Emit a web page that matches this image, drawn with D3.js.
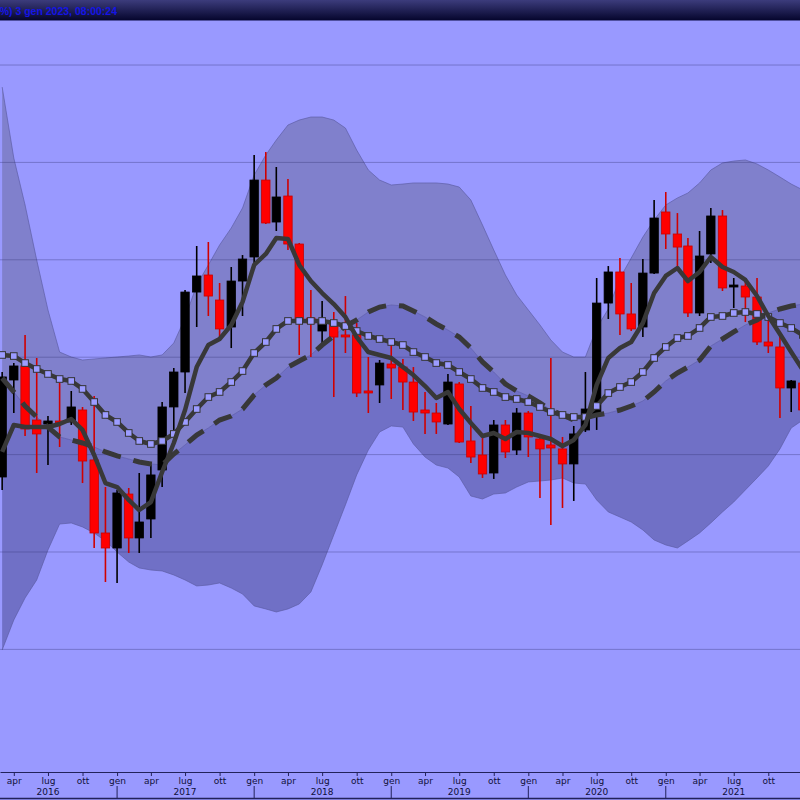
<!DOCTYPE html>
<html><head><meta charset="utf-8">
<script src="https://cdn.jsdelivr.net/npm/d3@7"></script>
<style>html,body{margin:0;padding:0;background:#9999ff;} svg{display:block}</style>
</head><body>
<svg id="c" width="800" height="800"></svg>
<script>
// ---- data (monthly candles, Mar 2016 .. Jan 2022) ----
const firstMonth = {year: 2016, month: 2};
const open  = [27.70,37.66,39.10,33.55,33.14,33.45,33.35,34.58,29.45,21.95,20.41,25.95,21.44,23.39,28.42,34.89,38.48,46.69,48.44,45.87,43.10,47.82,50.29,58.19,53.88,56.55,51.62,44.02,42.69,43.51,42.18,42.28,36.43,37.15,39.30,38.99,37.45,34.58,34.27,33.14,37.25,31.40,29.96,28.11,33.04,30.47,34.27,31.60,30.99,30.58,29.04,32.53,34.07,45.56,48.75,44.44,43.10,48.64,54.91,52.65,51.42,44.54,50.60,54.50,47.21,47.31,46.18,41.56,41.05,36.84,37.35];
const high  = [38.48,39.40,42.28,39.92,33.96,37.35,36.53,34.89,36.02,26.67,26.37,26.57,28.11,28.93,35.40,38.89,46.90,51.42,51.83,47.62,49.26,50.49,60.76,61.07,59.53,58.30,51.73,46.90,45.77,44.64,46.28,43.51,40.02,39.71,41.25,39.82,38.99,36.43,35.30,38.28,37.45,34.99,31.70,33.55,33.55,34.78,34.48,31.91,39.92,31.81,32.94,38.48,48.13,49.36,50.18,47.62,50.08,56.14,56.96,54.80,52.24,52.96,55.32,55.11,48.13,47.93,48.13,44.02,42.18,37.66,40.23];
const low   = [26.37,34.27,31.91,28.11,28.93,30.78,33.04,27.08,20.41,16.92,16.82,19.90,19.90,21.44,26.67,32.53,36.32,43.10,44.23,41.87,40.94,44.23,49.16,53.68,52.96,51.01,40.23,40.02,41.46,35.91,40.43,35.91,34.27,35.30,35.71,34.58,33.45,32.12,32.12,33.04,31.19,29.14,27.60,27.50,29.65,29.96,29.75,25.54,22.77,24.52,25.24,32.32,32.53,43.92,42.28,42.69,42.07,48.54,51.11,49.26,44.13,44.23,49.67,46.80,45.05,43.61,41.25,40.43,33.76,34.37,33.55];
const close = [37.97,39.10,32.63,32.12,33.45,33.24,34.89,29.34,21.95,20.41,26.06,21.44,23.08,27.91,34.89,38.48,46.69,48.34,46.28,42.90,47.82,50.08,58.19,53.78,56.45,51.62,43.82,43.51,43.61,42.07,42.07,36.32,36.32,39.40,38.89,37.45,34.37,34.27,33.35,37.45,31.29,29.75,28.01,33.04,30.27,34.27,31.81,30.58,30.68,29.04,32.12,34.68,45.56,48.75,44.44,42.90,48.64,54.29,52.65,51.31,44.54,50.39,54.50,47.11,47.31,46.18,41.56,41.15,36.84,37.56,34.58];
const maShort = [30.27,33.04,32.83,32.83,32.83,33.14,33.65,32.53,29.96,27.08,26.67,25.34,24.31,25.13,28.21,31.19,34.58,38.99,41.25,41.87,43.31,45.67,49.47,50.60,52.24,52.14,49.47,47.82,46.59,45.46,44.13,42.07,40.53,40.23,39.92,38.99,38.17,37.04,35.81,36.43,34.68,33.24,31.91,32.22,31.60,32.32,32.22,31.91,31.60,30.88,31.50,33.04,37.15,39.92,40.94,41.56,43.51,46.59,48.34,49.16,47.82,48.75,50.29,49.26,48.75,47.93,46.28,44.23,42.38,40.53,38.69];
const maMid   = [40.23,40.12,39.40,38.79,38.28,37.76,37.56,36.74,35.40,34.07,33.35,32.22,31.40,31.09,31.40,32.12,33.35,34.68,35.91,36.43,37.45,38.58,40.43,41.56,42.90,43.72,43.72,43.72,43.72,43.51,43.20,42.69,42.18,41.87,41.56,41.25,40.53,40.02,39.40,39.20,38.48,37.76,36.84,36.43,35.91,35.71,35.40,34.89,34.37,34.07,33.86,33.86,34.99,36.32,36.94,37.45,38.48,39.92,41.05,41.97,42.18,43.00,44.13,44.23,44.54,44.64,44.44,44.13,43.51,43.00,42.28];
const maLong  = [37.86,36.43,34.99,33.86,32.83,31.81,31.50,31.19,30.78,30.27,29.86,29.55,29.24,29.04,28.93,30.06,30.99,32.01,32.73,33.55,33.96,34.68,36.12,37.15,37.86,38.99,39.61,40.23,41.25,42.18,43.20,43.82,44.64,45.15,45.36,45.26,44.74,44.13,43.41,42.79,42.07,40.94,39.51,38.48,37.25,36.53,36.02,35.30,34.58,34.07,33.55,33.76,34.07,34.27,34.58,34.99,35.50,36.43,37.56,38.38,38.99,39.71,41.15,41.87,42.59,43.31,43.82,44.54,44.95,45.26,45.46];
const bandUpper = [67.74,60.45,55.63,49.98,44.85,40.53,40.02,39.71,39.82,39.92,40.02,40.12,40.23,40.02,40.23,41.46,44.02,47.41,49.47,51.52,53.27,55.32,58.71,60.76,62.30,63.84,64.35,64.66,64.66,64.35,63.53,61.27,59.22,58.19,57.68,57.78,57.89,57.89,57.89,57.78,57.47,56.14,53.57,51.01,48.44,46.39,44.85,43.31,41.77,40.53,40.02,40.02,43.00,44.95,48.13,50.18,52.34,54.09,55.63,56.35,56.86,57.89,59.22,59.94,60.14,60.25,59.84,59.22,58.50,57.78,57.17];
const bandLower = [9.94,13.02,15.28,17.13,20.21,22.87,22.98,22.57,21.95,21.13,20.00,18.97,18.36,18.15,18.05,17.64,17.13,16.51,16.61,16.82,16.30,15.69,14.46,14.15,13.84,14.15,14.66,15.89,18.67,21.75,24.83,27.91,30.47,32.32,32.94,32.83,31.09,29.75,28.93,28.62,27.70,25.75,25.44,25.95,26.06,26.67,27.19,27.29,27.39,27.60,27.08,26.98,25.34,24.11,23.59,23.08,22.26,21.23,20.72,20.41,21.13,21.95,22.98,24.11,25.13,26.37,27.60,28.83,30.58,32.73,33.55];
const monthNames = ["gen","apr","lug","ott"];
const years = [2016,2017,2018,2019,2020,2021,2022];
const gridValues = [10,20,30,40,50,60,70];
const headerText = "%) 3 gen 2023, 08:00:24";

const months = open.map((_, i) => new Date(Date.UTC(firstMonth.year, firstMonth.month + i, 1)));
const candles = months.map((d, i) => ({d, o: open[i], h: high[i], l: low[i], c: close[i]}));

// ---- layout ----
const W = 800, H = 800, plotTop = 21, plotBottom = 772;
const svg = d3.select("#c");
const x = d3.scaleUtc()
  .domain([new Date(Date.UTC(2016,1,24,6)), new Date(Date.UTC(2021,11,24,10))])
  .range([0, W]);
const y = d3.scaleLinear().domain([-2.59, 74.52]).range([plotBottom, plotTop]);

const defs = svg.append("defs");
const g = defs.append("linearGradient").attr("id","hdr").attr("x1",0).attr("y1",0).attr("x2",0).attr("y2",1);
g.append("stop").attr("offset","0%").attr("stop-color","#3c3c7c");
g.append("stop").attr("offset","100%").attr("stop-color","#06062e");
defs.append("clipPath").attr("id","plot").append("rect").attr("x",0).attr("y",plotTop).attr("width",W).attr("height",plotBottom-plotTop);

svg.append("rect").attr("width",W).attr("height",H).attr("fill","#9999ff");

const plot = svg.append("g").attr("clip-path","url(#plot)");

// bands
const upperArea = d3.area().x((d,i)=>x(months[i])).y0((d,i)=>y(maLong[i])).y1((d,i)=>y(bandUpper[i]));
const lowerArea = d3.area().x((d,i)=>x(months[i])).y0((d,i)=>y(maLong[i])).y1((d,i)=>y(bandLower[i]));
plot.append("path").datum(months).attr("d", upperArea).attr("fill","#8080cc");
plot.append("path").datum(months).attr("d", lowerArea).attr("fill","#7070c6");
const edge = arr => d3.line().x((d,i)=>x(months[i])).y((d,i)=>y(arr[i]));
[bandUpper, bandLower, maLong].forEach(arr => {
  plot.append("path").datum(months).attr("d", edge(arr)).attr("fill","none")
    .attr("stroke","#5a5aa0").attr("stroke-width",0.8).attr("stroke-opacity",0.8);
});

// grid
plot.selectAll("line.grid").data(gridValues).join("line").attr("class","grid")
  .attr("x1",0).attr("x2",W).attr("y1",d=>y(d)).attr("y2",d=>y(d))
  .attr("stroke","#303070").attr("stroke-opacity",0.35).attr("stroke-width",1);

// candles
const bw = 8.4;
const cg = plot.append("g");
cg.selectAll("line.wick").data(candles).join("line").attr("class","wick")
  .attr("x1",d=>x(d.d)).attr("x2",d=>x(d.d)).attr("y1",d=>y(d.h)).attr("y2",d=>y(d.l))
  .attr("stroke",d=>d.c>=d.o?"#000000":"#d00000").attr("stroke-width",1.6);
cg.selectAll("rect.body").data(candles).join("rect").attr("class","body")
  .attr("x",d=>x(d.d)-bw/2).attr("width",bw)
  .attr("y",d=>Math.min(y(d.o),y(d.c)) - (Math.abs(y(d.o)-y(d.c))<2?1:0))
  .attr("height",d=>Math.max(2,Math.abs(y(d.o)-y(d.c))))
  .attr("fill",d=>d.c>=d.o?"#000000":"#ff0000")
  .attr("stroke",d=>d.c>=d.o?"#000000":"#c80000").attr("stroke-width",0.8);

// moving averages
const maLine = arr => d3.line().x((d,i)=>x(months[i])).y((d,i)=>y(arr[i]));
plot.append("path").datum(months).attr("d", maLine(maLong)).attr("fill","none")
  .attr("stroke","#383838").attr("stroke-width",5).attr("stroke-dasharray","19,13");
plot.append("path").datum(months).attr("d", maLine(maMid)).attr("fill","none")
  .attr("stroke","#383838").attr("stroke-width",4.5).attr("stroke-linejoin","round");
plot.selectAll("rect.mk").data(months).join("rect").attr("class","mk")
  .attr("x",(d,i)=>x(d)-3.3).attr("y",(d,i)=>y(maMid[i])-3.3).attr("width",6.6).attr("height",6.6)
  .attr("fill","#9c9cff").attr("stroke","#333333").attr("stroke-width",1);
plot.append("path").datum(months).attr("d", maLine(maShort)).attr("fill","none")
  .attr("stroke","#383838").attr("stroke-width",4.5).attr("stroke-linejoin","round");

// x axis
const axis = d3.axisBottom(x).ticks(d3.utcMonth.every(3))
  .tickFormat(d => monthNames[d.getUTCMonth()/3]).tickSizeInner(4).tickSizeOuter(0).tickPadding(2);
const ax = svg.append("g").attr("transform",`translate(0,${plotBottom})`).call(axis);
ax.select(".domain").attr("stroke","#22225a");
ax.selectAll(".tick line").attr("stroke","#22225a");
ax.selectAll(".tick text").attr("font-family","DejaVu Sans").attr("font-size",9).attr("fill","#10103a");
svg.selectAll("line.ysep").data(years).join("line").attr("class","ysep")
  .attr("x1",d=>x(new Date(Date.UTC(d,0,1)))).attr("x2",d=>x(new Date(Date.UTC(d,0,1))))
  .attr("y1",786).attr("y2",798).attr("stroke","#22225a").attr("stroke-width",1);
svg.selectAll("text.yr").data(years).join("text").attr("class","yr")
  .attr("x",d=>x(new Date(Date.UTC(d,6,1)))).attr("y",795).attr("text-anchor","middle")
  .attr("font-family","DejaVu Sans").attr("font-size",9).attr("fill","#10103a").text(d=>d);
svg.append("line").attr("x1",0).attr("x2",W).attr("y1",798.5).attr("y2",798.5).attr("stroke","#22225a").attr("stroke-width",1.5);

// header
svg.append("rect").attr("x",0).attr("y",0).attr("width",W).attr("height",20).attr("fill","url(#hdr)");
svg.append("line").attr("x1",0).attr("x2",W).attr("y1",20.5).attr("y2",20.5).attr("stroke","#5050a0");
svg.append("text").attr("x",117).attr("y",15).attr("text-anchor","end")
  .attr("font-family","Liberation Sans").attr("font-weight","bold").attr("font-size",10.5)
  .attr("fill","#1414e6").text(headerText);
</script>
</body></html>
